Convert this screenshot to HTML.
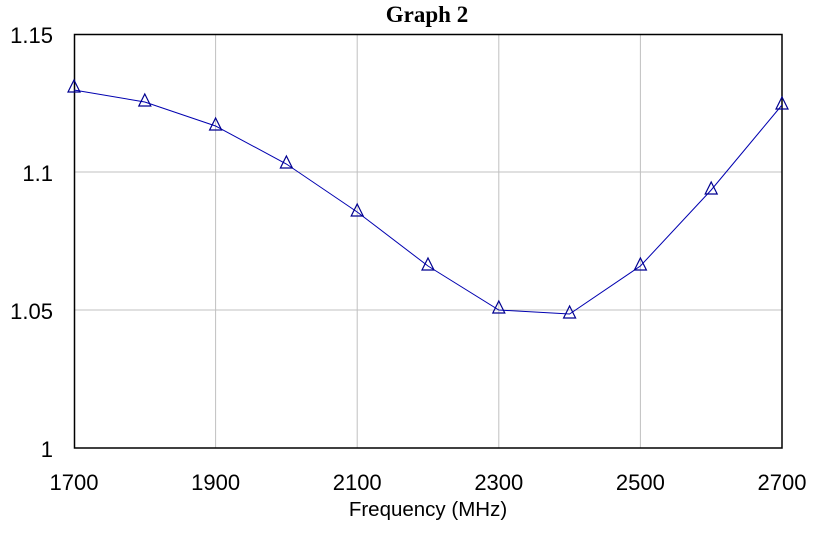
<!DOCTYPE html>
<html><head><meta charset="utf-8"><style>body{margin:0;background:#fff}svg{display:block}</style></head>
<body>
<svg width="818" height="536" xmlns="http://www.w3.org/2000/svg">
<rect width="818" height="536" fill="#fff"/>
<text x="427" y="22" text-anchor="middle" font-family="Liberation Serif" font-weight="bold" font-size="23">Graph 2</text>
<g stroke="#c0c0c0" stroke-width="1">
<line x1="215.6" y1="34" x2="215.6" y2="448"/><line x1="357.2" y1="34" x2="357.2" y2="448"/>
<line x1="498.8" y1="34" x2="498.8" y2="448"/><line x1="640.4" y1="34" x2="640.4" y2="448"/>
<line x1="74" y1="172" x2="782" y2="172"/><line x1="74" y1="310" x2="782" y2="310"/>
</g>
<rect x="74.5" y="34.5" width="707.5" height="413.5" fill="none" stroke="#000" stroke-width="1.5"/>
<g font-family="Liberation Sans" font-size="22" fill="#000">
<text x="53" y="43" text-anchor="end">1.15</text>
<text x="53" y="181" text-anchor="end">1.1</text>
<text x="53" y="319" text-anchor="end">1.05</text>
<text x="53" y="457" text-anchor="end">1</text>
<g text-anchor="middle">
<text x="74" y="490">1700</text><text x="215.6" y="490">1900</text><text x="357.2" y="490">2100</text>
<text x="498.8" y="490">2300</text><text x="640.4" y="490">2500</text><text x="782" y="490">2700</text>
</g>
<text x="428" y="516" text-anchor="middle" font-size="20.5">Frequency (MHz)</text>
</g>
<polyline fill="none" stroke="#0000b0" stroke-width="1" points="74,90 144.8,102 215.6,126 286.4,164 357.2,212 428,266 498.8,310 569.6,314 640.4,266 711.2,190 782,105"/>
<g fill="none" stroke="#000090" stroke-width="1.2">
<path d="M74,80 l6,12 h-12 z"/><path d="M144.8,94 l6,12 h-12 z"/><path d="M215.6,118 l6,12 h-12 z"/>
<path d="M286.4,156 l6,12 h-12 z"/><path d="M357.2,204 l6,12 h-12 z"/><path d="M428,258 l6,12 h-12 z"/>
<path d="M498.8,301 l6,12 h-12 z"/><path d="M569.6,306 l6,12 h-12 z"/><path d="M640.4,258 l6,12 h-12 z"/>
<path d="M711.2,182 l6,12 h-12 z"/><path d="M782,97 l6,12 h-12 z"/>
</g>
</svg>
</body></html>
